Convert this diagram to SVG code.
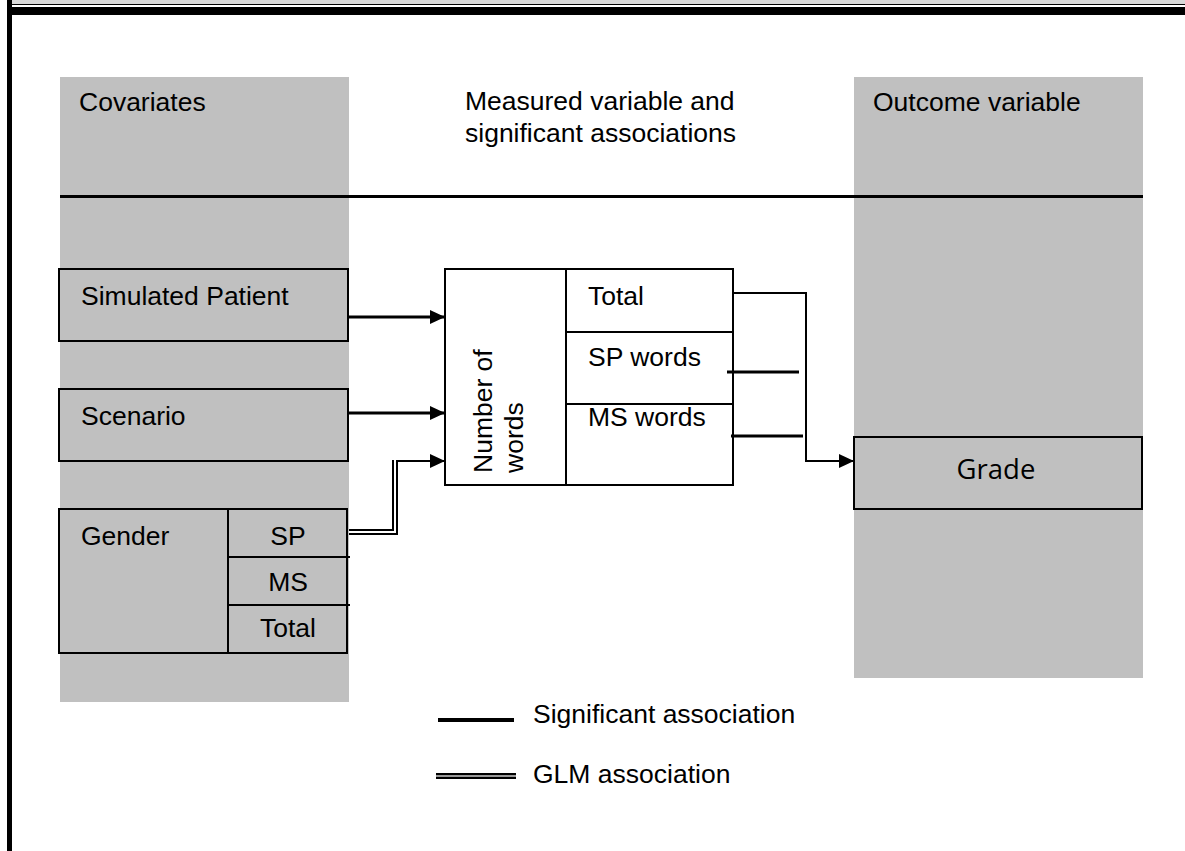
<svg xmlns="http://www.w3.org/2000/svg" width="1185" height="851" viewBox="0 0 1185 851">
<style>
text{font-family:"Liberation Sans",Arial,sans-serif;font-size:26.5px;fill:#000}
.col{fill:#c0c0c0}
.box{fill:#c0c0c0;stroke:#000;stroke-width:2}
.wbox{fill:#fff;stroke:#000;stroke-width:2}
.ln{fill:none;stroke:#000;stroke-width:2}
.sig{fill:none;stroke:#000;stroke-width:3}
.glmo{fill:none;stroke:#000;stroke-width:6}
.glmi{fill:none;stroke:#fff;stroke-width:2}
.mid{text-anchor:middle}
</style>
<defs>
<marker id="arr" markerUnits="userSpaceOnUse" markerWidth="16" markerHeight="15" refX="15" refY="7" orient="auto">
<path d="M0,0 L15,7 L0,14 z" fill="#000"/>
</marker>
</defs>
<rect width="1185" height="851" fill="#fff"/>
<!-- page border -->
<rect x="12" y="0" width="1173" height="4" fill="#d9d9d9"/>
<rect x="7" y="4" width="1178" height="1" fill="#000"/>
<rect x="7" y="7" width="1178" height="8" fill="#000"/>
<rect x="7" y="0" width="5" height="851" fill="#000"/>
<!-- columns -->
<g id="covariates">
<rect class="col" x="60" y="77" width="289" height="625"/>
<text x="79" y="111">Covariates</text>
</g>
<g id="outcome">
<rect class="col" x="854" y="77" width="289" height="601"/>
<text x="873" y="111">Outcome variable</text>
</g>
<g id="header-mid">
<text x="465" y="110">Measured variable and</text>
<text x="465" y="142">significant associations</text>
</g>
<rect x="60" y="195" width="1083" height="3" fill="#000"/>
<g id="simulated-patient">
<rect class="box" x="59" y="269" width="289" height="72"/>
<text x="81" y="305">Simulated Patient</text>
</g>
<g id="scenario">
<rect class="box" x="59" y="389" width="289" height="72"/>
<text x="81" y="425">Scenario</text>
</g>
<g id="gender">
<rect class="box" x="59" y="509" width="288" height="144"/>
<line class="ln" x1="228" y1="509" x2="228" y2="653"/>
<line class="ln" x1="228" y1="557" x2="350" y2="557"/>
<line class="ln" x1="228" y1="605" x2="350" y2="605"/>
<text x="81" y="545">Gender</text>
<text class="mid" x="288" y="545">SP</text>
<text class="mid" x="288" y="591">MS</text>
<text class="mid" x="288" y="637">Total</text>
</g>
<g id="number-of-words">
<rect class="wbox" x="445" y="269" width="288" height="216"/>
<line class="ln" x1="566" y1="269" x2="566" y2="485"/>
<line class="ln" x1="566" y1="332" x2="733" y2="332"/>
<line class="ln" x1="566" y1="404" x2="733" y2="404"/>
<text transform="translate(492,473) rotate(-90)">Number of</text>
<text transform="translate(523,473) rotate(-90)">words</text>
<text x="588" y="305">Total</text>
<text x="588" y="366">SP words</text>
<text x="588" y="426">MS words</text>
</g>
<g id="grade">
<rect class="box" x="854" y="437" width="288" height="72"/>
<text class="mid" x="996" y="479" style="font-family:'Open Sans','Noto Sans',sans-serif;font-size:27.5px">Grade</text>
</g>
<g id="connectors">
<path class="sig" d="M349,317 H445" marker-end="url(#arr)"/>
<path class="sig" d="M349,413 H445" marker-end="url(#arr)"/>
<path class="glmo" d="M349,532 H395 V460"/>
<path class="glmi" d="M349,532 H395 V459"/>
<path class="ln" d="M396,461 H445" marker-end="url(#arr)"/>
<path class="ln" d="M733,293 H806 V461 H854" marker-end="url(#arr)"/>
<path class="sig" d="M727,372 H799"/>
<path class="sig" d="M731,436 H803"/>
</g>
<g id="legend">
<line x1="438" y1="720" x2="514" y2="720" stroke="#000" stroke-width="4"/>
<text x="533" y="723">Significant association</text>
<line x1="436" y1="776" x2="516" y2="776" stroke="#000" stroke-width="6"/>
<line x1="436" y1="776" x2="516" y2="776" stroke="#999" stroke-width="2"/>
<text x="533" y="783">GLM association</text>
</g>
</svg>
